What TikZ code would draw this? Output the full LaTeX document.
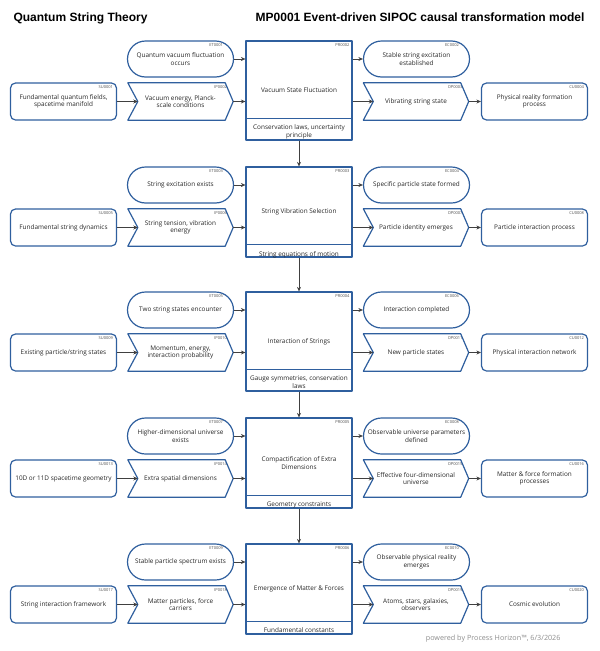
\documentclass[tikz,border=0pt]{standalone}
\usepackage{fontspec}
\setmainfont{Open Sans}
\newfontfamily\headfont{Liberation Sans}
\usetikzlibrary{arrows.meta}
\definecolor{sipocblue}{HTML}{2F5F9E}
\definecolor{flowgray}{HTML}{404040}
\newcommand{\boxfont}{\fontsize{6.4}{7.4}\selectfont}
\newcommand{\tagfont}{\fontsize{4}{4.5}\selectfont}

\begin{document}
\begin{tikzpicture}[x=1pt,y=-1pt,line join=round,>={Stealth[length=4.5pt,width=4pt]},font=\boxfont,
		box/.style={draw=sipocblue,line width=1.2pt,align=center,inner sep=1pt,text=black!85},
		event/.style={box,rounded corners=18pt,minimum width=106pt,minimum height=36pt},
		party/.style={box,rounded corners=5pt,minimum width=106pt,minimum height=37pt},
		chevron/.style={align=center,inner sep=1pt,minimum width=105pt,minimum height=37pt,text=black!85},
		chevline/.style={draw=sipocblue,line width=1.2pt},
		process/.style={box,minimum width=106pt},
		constraint/.style={align=center,inner sep=0pt,anchor=north,text=black!85},
		tag/.style={anchor=north east,inner sep=0pt,font=\tagfont,text=black!70},
		etag/.style={tag,xshift=-11pt,yshift=-3pt},
		btag/.style={tag,xshift=-4pt,yshift=-2.5pt},
		ctag/.style={tag,xshift=-6pt,yshift=-2.5pt},
		ptag/.style={tag,xshift=-3pt,yshift=-3pt},
		flow/.style={->,draw=flowgray,line width=0.7pt}]
	\useasboundingbox (0,0) rectangle (600,651);
	\node[anchor=base west,font={\headfont\bfseries\fontsize{12}{14}\selectfont}] (theory) at (10,21) {Quantum String Theory};
	\node[anchor=base east,font={\headfont\bfseries\fontsize{12}{14}\selectfont}] (model) at (588,21) {MP0001 Event-driven SIPOC causal transformation model};
	% row 1
	\node[event,label={[etag]north east:ET0001}] (et1) at (180.5,59) {Quantum vacuum fluctuation\\occurs};
	\node[party,label={[btag]north east:SU0001}] (su1) at (63.5,101.5) {Fundamental quantum fields,\\spacetime manifold};
	\node[chevron,label={[ctag]north east:IP0002}] (ip1) at (180.5,101.5) {Vacuum energy, Planck-\\scale conditions};
	\node[process,minimum height=99pt,label={[ptag]north east:PR0002}] (pr1) at (299,90.5) {Vacuum State Fluctuation};
	\node[constraint] (prc1) at ([yshift=-84.5pt]pr1.north) {Conservation laws, uncertainty\\principle};
	\node[event,label={[etag]north east:EC0002}] (ec1) at (416.5,59) {Stable string excitation\\established};
	\node[chevron,label={[ctag]north east:OP0003}] (op1) at (416,101.5) {Vibrating string state};
	\node[party,label={[btag]north east:CU0004}] (cu1) at (534.5,101.5) {Physical reality formation\\process};
	% row 2
	\node[event,label={[etag]north east:ET0003}] (et2) at (180.5,185) {String excitation exists};
	\node[party,label={[btag]north east:SU0005}] (su2) at (63.5,227.5) {Fundamental string dynamics};
	\node[chevron,label={[ctag]north east:IP0006}] (ip2) at (180.5,227.5) {String tension, vibration\\energy};
	\node[process,minimum height=90pt,label={[ptag]north east:PR0003}] (pr2) at (299,212) {String Vibration Selection};
	\node[constraint] (prc2) at ([yshift=-84.5pt]pr2.north) {String equations of motion};
	\node[event,label={[etag]north east:EC0004}] (ec2) at (416.5,185) {Specific particle state formed};
	\node[chevron,label={[ctag]north east:OP0007}] (op2) at (416,227.5) {Particle identity emerges};
	\node[party,label={[btag]north east:CU0008}] (cu2) at (534.5,227.5) {Particle interaction process};
	% row 3
	\node[event,label={[etag]north east:ET0005}] (et3) at (180.5,310) {Two string states encounter};
	\node[party,label={[btag]north east:SU0009}] (su3) at (63.5,352.5) {Existing particle/string states};
	\node[chevron,label={[ctag]north east:IP0010}] (ip3) at (180.5,352.5) {Momentum, energy,\\interaction probability};
	\node[process,minimum height=99pt,label={[ptag]north east:PR0004}] (pr3) at (299,341.5) {Interaction of Strings};
	\node[constraint] (prc3) at ([yshift=-84.5pt]pr3.north) {Gauge symmetries, conservation\\laws};
	\node[event,label={[etag]north east:EC0006}] (ec3) at (416.5,310) {Interaction completed};
	\node[chevron,label={[ctag]north east:OP0011}] (op3) at (416,352.5) {New particle states};
	\node[party,label={[btag]north east:CU0012}] (cu3) at (534.5,352.5) {Physical interaction network};
	% row 4
	\node[event,label={[etag]north east:ET0007}] (et4) at (180.5,436) {Higher-dimensional universe\\exists};
	\node[party,label={[btag]north east:SU0013}] (su4) at (63.5,478.5) {10D or 11D spacetime geometry};
	\node[chevron,label={[ctag]north east:IP0014}] (ip4) at (180.5,478.5) {Extra spatial dimensions};
	\node[process,minimum height=90pt,label={[ptag]north east:PR0005}] (pr4) at (299,463) {Compactification of Extra\\Dimensions};
	\node[constraint] (prc4) at ([yshift=-84.5pt]pr4.north) {Geometry constraints};
	\node[event,label={[etag]north east:EC0008}] (ec4) at (416.5,436) {Observable universe parameters\\defined};
	\node[chevron,label={[ctag]north east:OP0015}] (op4) at (416,478.5) {Effective four-dimensional\\universe};
	\node[party,label={[btag]north east:CU0016}] (cu4) at (534.5,478.5) {Matter \& force formation\\processes};
	% row 5
	\node[event,label={[etag]north east:ET0009}] (et5) at (180.5,562) {Stable particle spectrum exists};
	\node[party,label={[btag]north east:SU0017}] (su5) at (63.5,604.5) {String interaction framework};
	\node[chevron,label={[ctag]north east:IP0018}] (ip5) at (180.5,604.5) {Matter particles, force\\carriers};
	\node[process,minimum height=90pt,label={[ptag]north east:PR0006}] (pr5) at (299,589) {Emergence of Matter \& Forces};
	\node[constraint] (prc5) at ([yshift=-84.5pt]pr5.north) {Fundamental constants};
	\node[event,label={[etag]north east:EC0010}] (ec5) at (416.5,562) {Observable physical reality\\emerges};
	\node[chevron,label={[ctag]north east:OP0019}] (op5) at (416,604.5) {Atoms, stars, galaxies,\\observers};
	\node[party,label={[btag]north east:CU0020}] (cu5) at (534.5,604.5) {Cosmic evolution};
	% chevrons, dividers and arrows
	\foreach \n in {ip,op}
	\foreach \r in {1,...,5}
	\draw[chevline] (\n\r.north west) -- ([xshift=-8pt]\n\r.north east) -- (\n\r.east) -- ([xshift=-8pt]\n\r.south east) -- (\n\r.south west) -- ([xshift=10pt]\n\r.west) -- cycle;
	\foreach \r in {1,...,5}{
		\draw[chevline] ([yshift=-78pt]pr\r.north west) -- ([yshift=-78pt]pr\r.north east);
		\draw[flow] (et\r.east) -- (et\r.east -| pr\r.west);
		\draw[flow] (su\r.east) -- ([xshift=10pt]ip\r.west);
		\draw[flow] (ip\r.east) -- (ip\r.east -| pr\r.west);
		\draw[flow] (ec\r.west -| pr\r.east) -- (ec\r.west);
		\draw[flow] (op\r.west -| pr\r.east) -- ([xshift=10pt]op\r.west);
		\draw[flow] (op\r.east) -- (cu\r.west);
	}
	\foreach \r [evaluate=\r as \s using int(\r+1)] in {1,...,4}
	\draw[flow] (pr\r.south) -- (pr\s.north);
	\node[anchor=base east,font=\fontsize{7.2}{8}\selectfont,text=black!45] (footer) at (564,640.5) {powered by Process Horizon™, 6/3/2026};
\end{tikzpicture}
\end{document}
